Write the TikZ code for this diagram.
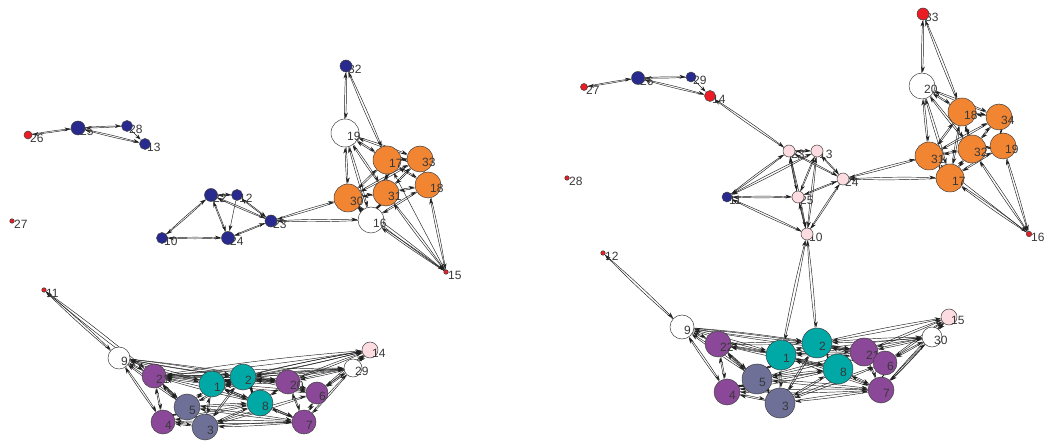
\documentclass[tikz,border=0pt]{standalone}
\usepackage{fontspec}
\setmainfont{Liberation Sans}
\usetikzlibrary{arrows.meta}
\definecolor{cblue}{RGB}{40,42,142}
\definecolor{corange}{RGB}{242,133,50}
\definecolor{cteal}{RGB}{0,168,166}
\definecolor{cpurple}{RGB}{140,72,152}
\definecolor{cslate}{RGB}{110,112,152}
\definecolor{cpink}{RGB}{252,220,224}
\definecolor{cred}{RGB}{236,28,36}
\pgfdeclarelayer{edges}
\pgfdeclarelayer{lab}
\pgfsetlayers{edges,lab,main}
\tikzset{
  vtx/.style={circle,draw=black!75,line width=0.5pt,inner sep=0pt},
  lbl/.style={anchor=west,inner sep=0pt,text=black!78,font=\fontsize{12}{13}\selectfont},
  edge/.style={draw=black!88,line width=0.45pt,-{Stealth[length=6pt,width=3.8pt]},shorten >=0.3pt},
}
\newcommand\sv[6]{\node[vtx,fill=#5,minimum size=#4pt] (#1) at (#2,#3) {};
  \begin{pgfonlayer}{lab}\node[lbl] at (#2+2,#3+3.5) {#6};\end{pgfonlayer}}
\newcommand\bv[6]{\node[vtx,fill=#5,minimum size=#4pt] (#1) at (#2,#3) {};
  \node[lbl] at (#2+2,#3+3.5) {#6};}
\newcommand\biedge[2]{\begin{pgfonlayer}{edges}\draw[edge] (#1) to[bend left=2] (#2);\draw[edge] (#2) to[bend left=2] (#1);\end{pgfonlayer}}
\newcommand\uniedge[2]{\begin{pgfonlayer}{edges}\draw[edge] (#1) -- (#2);\end{pgfonlayer}}
\begin{document}
\begin{tikzpicture}[x=1pt,y=-1pt]
\useasboundingbox (0,0) rectangle (1047,443);
% ---------------- left panel ----------------
\sv{L26}{28}{135}{8}{cred}{26}
\sv{L25}{78}{128}{14}{cblue}{25}
\sv{L28}{127}{126}{11}{cblue}{28}
\sv{L13}{145}{144}{11}{cblue}{13}
\sv{L27}{12}{221}{4.5}{cred}{27}
\sv{L22}{211}{195}{13}{cblue}{22}
\sv{L12}{237}{195}{11}{cblue}{12}
\sv{L23}{271}{221}{12}{cblue}{23}
\sv{L10}{162}{238}{11}{cblue}{10}
\sv{L24}{228}{238}{13}{cblue}{24}
\sv{L32}{346}{66}{12}{cblue}{32}
\bv{L19}{345}{133}{28}{white}{19}
\bv{L30}{348}{198}{28}{corange}{30}
\bv{L16}{371}{220}{26}{white}{16}
\bv{L31}{386}{193}{26}{corange}{31}
\bv{L17}{387}{160}{28}{corange}{17}
\bv{L33}{420}{159}{26}{corange}{33}
\bv{L18}{428}{185}{26}{corange}{18}
\sv{L15}{446}{272}{4.5}{cred}{15}
\sv{L11}{44}{290}{4.5}{cred}{11}
\bv{L9}{119}{358}{22}{white}{9}
\bv{L21}{154}{376}{24}{cpurple}{21}
\bv{L5}{187}{407}{26}{cslate}{5}
\bv{L1}{212}{384}{26}{cteal}{1}
\bv{L2}{243}{377}{26}{cteal}{2}
\bv{L8}{260}{403}{26}{cteal}{8}
\bv{L20}{288}{382}{24}{cpurple}{20}
\bv{L14}{370}{350}{16}{cpink}{14}
\bv{L29}{353}{368}{18}{white}{29}
\bv{L6}{317}{393}{22}{cpurple}{6}
\bv{L4}{163}{422}{24}{cpurple}{4}
\bv{L3}{205}{427}{26}{cslate}{3}
\bv{L7}{304}{422}{24}{cpurple}{7}
% edges left
\biedge{L26}{L25}\biedge{L25}{L28}\biedge{L25}{L13}\uniedge{L28}{L13}
\biedge{L22}{L12}\biedge{L22}{L10}\biedge{L22}{L24}\uniedge{L12}{L24}\biedge{L12}{L23}
\biedge{L22}{L23}\biedge{L10}{L24}\biedge{L24}{L23}\biedge{L23}{L30}\biedge{L23}{L16}
\biedge{L32}{L19}\biedge{L32}{L17}\biedge{L19}{L17}\biedge{L19}{L30}\biedge{L19}{L31}
\biedge{L19}{L16}\biedge{L17}{L33}\biedge{L17}{L31}\biedge{L17}{L30}\biedge{L33}{L31}
\biedge{L33}{L18}\biedge{L31}{L18}\biedge{L30}{L31}\biedge{L30}{L16}\biedge{L31}{L16}
\biedge{L17}{L18}\biedge{L30}{L33}\biedge{L16}{L18}\biedge{L15}{L16}\biedge{L15}{L30}
\biedge{L15}{L31}\biedge{L15}{L18}\biedge{L19}{L33}\uniedge{L15}{L17}
\biedge{L11}{L9}\biedge{L11}{L21}
\biedge{L9}{L21}\biedge{L9}{L4}\biedge{L9}{L5}\biedge{L9}{L1}\biedge{L9}{L2}\biedge{L9}{L20}
\biedge{L21}{L4}\biedge{L21}{L5}\biedge{L21}{L1}\biedge{L21}{L2}\biedge{L21}{L8}\biedge{L21}{L3}
\biedge{L21}{L20}\biedge{L1}{L2}\biedge{L1}{L5}\biedge{L1}{L3}\biedge{L1}{L8}\biedge{L1}{L20}
\biedge{L1}{L7}\biedge{L1}{L6}\biedge{L2}{L8}\biedge{L2}{L20}\biedge{L2}{L6}\biedge{L2}{L29}
\biedge{L2}{L5}\biedge{L2}{L3}\biedge{L20}{L29}\biedge{L20}{L14}\biedge{L20}{L6}\biedge{L20}{L7}
\biedge{L20}{L8}\biedge{L6}{L7}\biedge{L6}{L29}\biedge{L6}{L14}\biedge{L7}{L29}\biedge{L7}{L3}
\biedge{L7}{L4}\biedge{L7}{L8}\biedge{L7}{L5}\biedge{L8}{L5}\biedge{L8}{L3}\biedge{L8}{L4}
\biedge{L5}{L4}\biedge{L5}{L3}\biedge{L4}{L3}\biedge{L29}{L14}\biedge{L14}{L21}\biedge{L14}{L1}
\biedge{L29}{L1}\biedge{L3}{L6}\biedge{L2}{L14}\biedge{L21}{L29}
% ---------------- right panel ----------------
\sv{R27}{584}{87}{7}{cred}{27}
\sv{R26}{638}{78}{13}{cblue}{26}
\sv{R29}{691}{77}{10}{cblue}{29}
\sv{R14}{710}{96}{11}{cred}{14}
\sv{R28}{567}{178}{4.5}{cred}{28}
\sv{R12}{603}{253}{4.5}{cred}{12}
\sv{R23}{789}{151}{12}{cpink}{23}
\sv{R13}{817}{151}{12}{cpink}{13}
\sv{R24}{843}{179}{12}{cpink}{24}
\sv{R11}{727}{197}{10}{cblue}{11}
\sv{R25}{798}{197}{12}{cpink}{25}
\sv{R10}{807}{234}{12}{cpink}{10}
\sv{R33}{923}{14}{12}{cred}{33}
\bv{R20}{922}{86}{26}{white}{20}
\bv{R31}{929}{156}{28}{corange}{31}
\bv{R17}{950}{178}{28}{corange}{17}
\bv{R18}{962}{112}{28}{corange}{18}
\bv{R32}{972}{149}{28}{corange}{32}
\bv{R34}{999}{117}{26}{corange}{34}
\bv{R19}{1003}{146}{26}{corange}{19}
\sv{R16}{1029}{234}{5.5}{cred}{16}
\bv{R9}{682}{327}{24}{white}{9}
\bv{R22}{718}{344}{26}{cpurple}{22}
\bv{R5}{757}{379}{30}{cslate}{5}
\bv{R1}{781}{355}{30}{cteal}{1}
\bv{R2}{817}{343}{30}{cteal}{2}
\bv{R8}{838}{369}{30}{cteal}{8}
\bv{R21}{864}{352}{28}{cpurple}{21}
\bv{R6}{885}{363}{24}{cpurple}{6}
\bv{R15}{949}{317}{16}{cpink}{15}
\bv{R30}{932}{337}{20}{white}{30}
\bv{R4}{727}{392}{26}{cpurple}{4}
\bv{R3}{780}{403}{30}{cslate}{3}
\bv{R7}{881}{390}{26}{cpurple}{7}
% edges right
\biedge{R27}{R26}\biedge{R26}{R29}\biedge{R26}{R14}\uniedge{R29}{R14}\biedge{R14}{R23}
\biedge{R23}{R13}\biedge{R23}{R11}\biedge{R23}{R25}\biedge{R23}{R10}\biedge{R23}{R24}
\biedge{R13}{R11}\biedge{R13}{R25}\biedge{R13}{R10}\biedge{R13}{R24}\biedge{R11}{R25}
\biedge{R11}{R10}\biedge{R25}{R24}\biedge{R25}{R10}\biedge{R10}{R24}\biedge{R24}{R31}
\biedge{R24}{R17}\biedge{R10}{R1}\biedge{R10}{R2}
\biedge{R33}{R20}\biedge{R33}{R18}\biedge{R20}{R18}\biedge{R20}{R31}\biedge{R20}{R32}
\biedge{R20}{R17}\biedge{R20}{R34}\biedge{R18}{R34}\biedge{R18}{R31}\biedge{R18}{R32}
\biedge{R34}{R32}\biedge{R34}{R19}\biedge{R31}{R32}\biedge{R31}{R17}\biedge{R32}{R19}
\biedge{R32}{R17}\biedge{R19}{R17}\biedge{R16}{R17}\biedge{R16}{R32}\biedge{R16}{R19}
\uniedge{R16}{R31}\biedge{R18}{R17}\biedge{R34}{R31}
\biedge{R12}{R9}
\biedge{R9}{R22}\biedge{R9}{R4}\biedge{R9}{R5}\biedge{R9}{R1}\biedge{R9}{R2}\biedge{R9}{R21}
\biedge{R22}{R1}\biedge{R22}{R4}\biedge{R22}{R5}\biedge{R22}{R3}\biedge{R22}{R2}\biedge{R22}{R8}
\biedge{R1}{R2}\biedge{R1}{R5}\biedge{R1}{R3}\biedge{R1}{R8}\biedge{R1}{R21}\biedge{R1}{R7}
\biedge{R2}{R8}\biedge{R2}{R21}\biedge{R2}{R30}\biedge{R2}{R15}\biedge{R2}{R6}\biedge{R2}{R3}
\biedge{R21}{R6}\biedge{R21}{R30}\biedge{R21}{R15}\biedge{R21}{R7}\biedge{R21}{R8}\biedge{R21}{R5}
\biedge{R6}{R7}\biedge{R6}{R30}\biedge{R7}{R30}\biedge{R7}{R15}\biedge{R7}{R8}\biedge{R7}{R3}
\biedge{R7}{R5}\biedge{R8}{R3}\biedge{R8}{R5}\biedge{R8}{R4}\biedge{R5}{R4}\biedge{R5}{R3}
\biedge{R4}{R3}\biedge{R30}{R15}\biedge{R6}{R15}\biedge{R1}{R30}\biedge{R7}{R4}\biedge{R6}{R3}
\end{tikzpicture}
\end{document}
